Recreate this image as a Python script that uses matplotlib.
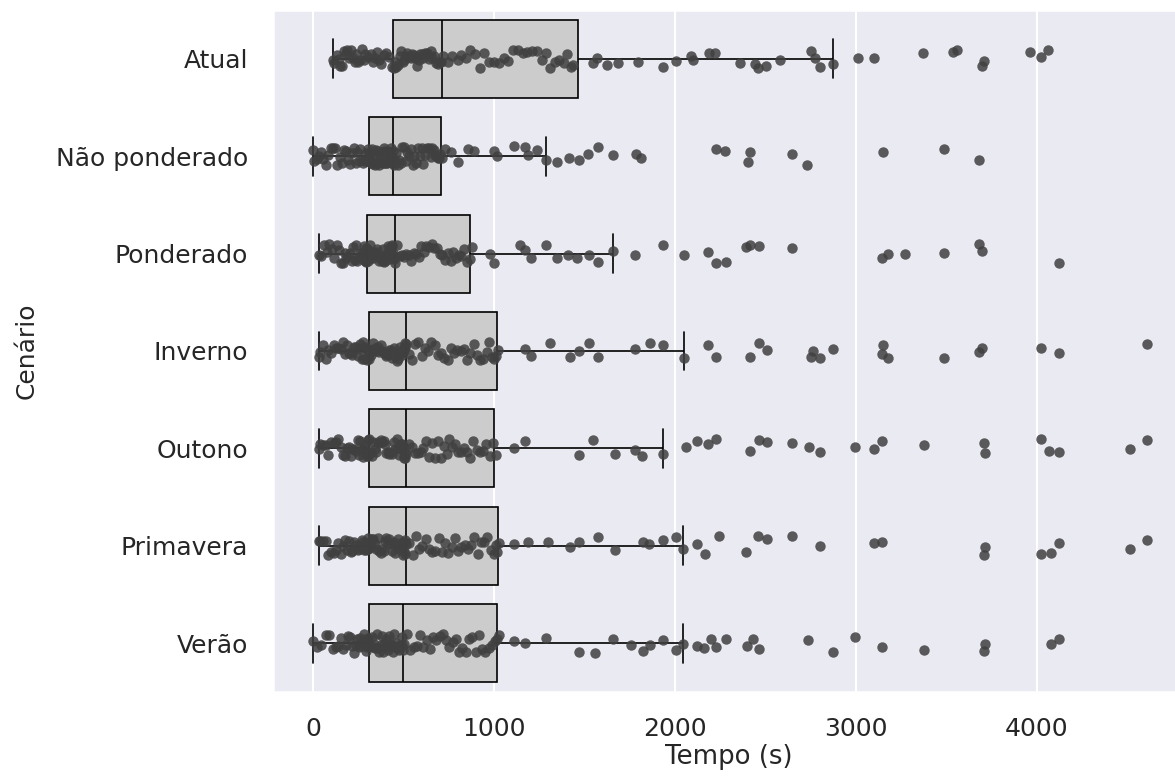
import numpy as np
import pandas as pd
import matplotlib
matplotlib.use("Agg")
import matplotlib.pyplot as plt
import seaborn as sns

categories = ["Atual", "Não ponderado", "Ponderado", "Inverno", "Outono", "Primavera", "Verão"]

atual = [109, 118, 130, 142, 150, 160, 171, 180, 190, 198, 210, 220, 230, 238, 250, 262, 270, 282, 290, 305,
         318, 330, 340, 352, 365, 378, 390, 405, 420, 435,
         445, 452, 460, 470, 478, 486, 495, 505, 512, 520, 530, 540, 548, 556, 565, 575, 585, 592, 600, 610,
         620, 630, 640, 650, 660, 668, 678, 690, 700, 708,
         720, 745, 770, 800, 820, 845, 870, 895, 920, 945, 975, 1000, 1030, 1055, 1080, 1105, 1130, 1160, 1185, 1210,
         1240, 1265, 1290, 1310, 1335, 1360, 1385, 1405, 1425, 1438,
         1545, 1570, 1622, 1685, 1793, 1933, 2005, 2089, 2100, 2188, 2222, 2362, 2440, 2461, 2502, 2580, 2751, 2772,
         2803, 2875, 3010, 3099, 3372, 3534, 3556, 3699, 3705, 3960, 4025, 4062]

nao_ponderado = [0, 8, 20, 32, 45, 58, 70, 85, 98, 110, 122, 135, 148, 160, 172, 185, 195, 205, 215, 225,
                 235, 245, 255, 262, 270, 278, 285, 292, 298, 305,
                 310, 315, 320, 325, 330, 335, 340, 345, 350, 355, 360, 365, 370, 375, 380, 385, 390, 395, 400, 405,
                 410, 415, 420, 424, 428, 432, 435, 438, 440, 442,
                 445, 452, 460, 468, 476, 485, 494, 503, 512, 520, 530, 540, 550, 560, 570, 580, 590, 600, 610, 620,
                 630, 640, 650, 658, 666, 674, 682, 690, 698, 704,
                 712, 730, 760, 799, 855, 892, 1001, 1016, 1110, 1172, 1187, 1240, 1290, 1349, 1414, 1467, 1520, 1576,
                 1660, 1784, 1812, 2228, 2275, 2403, 2415, 2648, 2732, 3148, 3487, 3680]

ponderado = [31, 45, 60, 75, 90, 105, 118, 130, 142, 155, 165, 175, 185, 195, 205, 215, 222, 230, 238, 245,
             252, 259, 265, 270, 275, 280, 284, 288, 291, 293,
             298, 303, 308, 314, 320, 326, 332, 338, 344, 350, 356, 362, 368, 374, 380, 386, 392, 398, 404, 410,
             415, 420, 425, 430, 434, 438, 441, 444, 447, 449,
             453, 465, 478, 490, 503, 516, 530, 543, 556, 570, 584, 598, 612, 626, 640, 655, 670, 685, 700, 715,
             730, 745, 760, 775, 790, 805, 820, 835, 850, 865,
             880, 979, 1001, 1141, 1172, 1203, 1290, 1349, 1408, 1461, 1523, 1576, 1660, 1781, 1933, 2048, 2182,
             2228, 2281, 2393, 2415, 2465, 2648, 3145, 3176, 3273, 3487, 3680, 3699, 4124]

inverno = [31, 40, 55, 70, 85, 100, 115, 128, 140, 152, 164, 176, 188, 198, 208, 218, 228, 238, 246, 254,
           262, 270, 277, 283, 289, 294, 298, 301, 303, 305,
           310, 318, 326, 334, 342, 350, 358, 366, 374, 382, 390, 398, 406, 414, 422, 430, 438, 446, 454, 462,
           469, 476, 482, 488, 493, 498, 502, 505, 508, 510,
           516, 530, 548, 565, 582, 600, 618, 636, 654, 672, 690, 708, 726, 744, 762, 780, 798, 816, 834, 852,
           870, 888, 906, 924, 942, 960, 975, 990, 1002, 1012,
           1020, 1172, 1203, 1312, 1420, 1467, 1523, 1576, 1778, 1862, 1933, 2048, 2182, 2228, 2415, 2465, 2508,
           2751, 2760, 2803, 2875, 3145, 3150, 3176, 3487, 3680, 3699, 4022, 4124, 4606]

outono = [31, 40, 55, 70, 85, 100, 115, 128, 140, 152, 164, 176, 188, 198, 208, 218, 228, 238, 246, 254,
          262, 270, 277, 283, 289, 294, 298, 301, 303, 305,
          310, 318, 326, 334, 342, 350, 358, 366, 374, 382, 390, 398, 406, 414, 422, 430, 438, 446, 454, 462,
          469, 476, 482, 488, 493, 498, 502, 505, 508, 510,
          516, 530, 546, 562, 578, 594, 610, 626, 642, 658, 674, 690, 706, 722, 738, 754, 770, 786, 802, 818,
          834, 850, 868, 886, 904, 922, 940, 958, 976, 996,
          1010, 1110, 1172, 1467, 1545, 1669, 1778, 1818, 1933, 2060, 2120, 2182, 2228, 2415, 2465, 2508, 2648,
          2741, 2803, 2996, 3099, 3145, 3378, 3705, 3714, 4022, 4068, 4124, 4513, 4606]

primavera = [31, 40, 55, 70, 85, 100, 115, 128, 140, 152, 164, 176, 188, 198, 208, 218, 228, 238, 246, 254,
             262, 270, 277, 283, 289, 294, 298, 301, 303, 305,
             310, 318, 326, 334, 342, 350, 358, 366, 374, 382, 390, 398, 406, 414, 422, 430, 438, 446, 454, 462,
             469, 476, 482, 488, 493, 498, 502, 505, 508, 510,
             516, 532, 550, 568, 586, 604, 622, 640, 658, 676, 694, 712, 730, 748, 766, 784, 802, 820, 838, 856,
             874, 892, 910, 928, 946, 964, 982, 998, 1010, 1018,
             1025, 1110, 1187, 1296, 1420, 1467, 1576, 1669, 1824, 1855, 1933, 2005, 2042, 2120, 2166, 2244, 2390,
             2461, 2508, 2648, 2803, 3099, 3145, 3705, 3714, 4022, 4077, 4124, 4513, 4606]

verao = [0, 20, 45, 70, 90, 110, 125, 140, 155, 168, 180, 192, 204, 215, 225, 235, 244, 252, 260, 267,
         274, 280, 285, 290, 294, 297, 300, 302, 304, 306,
         310, 317, 324, 331, 338, 345, 352, 359, 366, 373, 380, 387, 394, 401, 408, 415, 422, 429, 436, 443,
         450, 457, 463, 469, 475, 480, 485, 490, 494, 497,
         503, 520, 538, 556, 574, 592, 610, 628, 646, 664, 682, 700, 718, 736, 754, 772, 790, 808, 826, 844,
         862, 880, 898, 916, 934, 952, 970, 988, 1004, 1016,
         1025, 1110, 1172, 1290, 1467, 1560, 1660, 1756, 1824, 1862, 1933, 2005, 2042, 2120, 2160, 2197, 2228,
         2281, 2400, 2431, 2465, 2735, 2875, 2996, 3145, 3378, 3705, 3714, 4077, 4124]

x_ticks = [0, 1000, 2000, 3000, 4000]

series = [atual, nao_ponderado, ponderado, inverno, outono, primavera, verao]

df = pd.DataFrame({
    "Cenário": np.concatenate([[c] * len(s) for c, s in zip(categories, series)]),
    "Tempo (s)": np.concatenate([np.asarray(s, dtype=float) for s in series]),
})

sns.set_theme(style="darkgrid")
plt.rcParams["font.family"] = ["DejaVu Sans"]

fig = plt.figure(figsize=(1175 / 150, 780 / 150), dpi=150)
ax = fig.add_axes([273 / 1175, 1 - 692 / 780, (1185 - 273) / 1175, (692 - 10) / 780])

sns.boxplot(data=df, x="Tempo (s)", y="Cenário", order=categories, color=".8",
            linecolor="black", linewidth=0.8, showfliers=False, width=0.8, ax=ax)
np.random.seed(3)
sns.stripplot(data=df, x="Tempo (s)", y="Cenário", order=categories, color=".25",
              alpha=0.85, size=5, jitter=0.1, ax=ax)

ax.set_xlim(-221, 4818)
ax.set_ylim(6.5, -0.5)
ax.yaxis.grid(False)
ax.set_xticks(x_ticks)
ax.tick_params(axis="both", labelsize=12, length=0)
ax.tick_params(axis="x", pad=12)
ax.tick_params(axis="y", pad=12)
ax.set_xlabel("Tempo (s)", fontsize=12.5, labelpad=1.5)
ax.set_ylabel("Cenário", fontsize=12, labelpad=8)

fig.savefig("out.png", dpi=150)
